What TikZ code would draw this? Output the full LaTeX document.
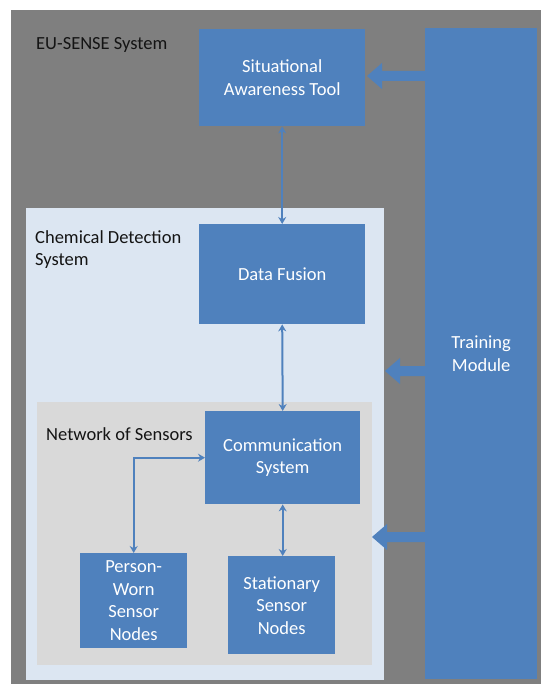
\documentclass[tikz,border=0pt]{standalone}
\usepackage{fontspec}
\setmainfont{Carlito}
\usetikzlibrary{arrows.meta,calc}
\definecolor{bgGrey}{HTML}{7F7F7F}
\definecolor{boxBlue}{HTML}{4F81BD}
\definecolor{lightBlue}{HTML}{DCE6F2}
\definecolor{netGrey}{HTML}{D9D9D9}
\begin{document}
\begin{tikzpicture}[x=1pt,y=-1pt,
  every node/.style={font=\fontsize{18.5}{22.5}\selectfont},
  area/.style={inner sep=0pt, anchor=north west},
  bluebox/.style={area, fill=boxBlue, text=white, align=center},
  lbl/.style={text=black!92, inner sep=0pt, align=left},
  conn/.style={draw=boxBlue, line width=2pt,
    {Stealth[length=7pt,width=8pt]}-{Stealth[length=7pt,width=8pt]}},
  ]
\useasboundingbox[fill=white] (0,0) rectangle (541,684);
% containers
\node[area, fill=bgGrey, minimum width=530pt, minimum height=674pt] (bg) at (11,10) {};
\node[area, fill=lightBlue, minimum width=358pt, minimum height=472pt] (cds) at (26,208) {};
\node[area, fill=netGrey, minimum width=335pt, minimum height=263pt] (net) at (37,402) {};
% labels
\node[lbl, anchor=west] (lblEU) at (36,45) {EU-SENSE System};
\node[lbl, anchor=north west] (lblCDS) at (35,230) {Chemical Detection\\System};
\node[lbl, anchor=west] (lblNet) at (46,434) {Network of Sensors};
% blue boxes
\node[bluebox, minimum width=166pt, minimum height=97pt] (sat) at (199,29) {Situational\\Awareness Tool};
\node[bluebox, minimum width=166pt, minimum height=100pt] (df) at (199,224) {Data Fusion};
\node[bluebox, minimum width=155pt, minimum height=93pt] (comm) at (205,411) {Communication\\System};
\node[bluebox, minimum width=107pt, minimum height=95pt] (pw) at (80,553) {Person-\\Worn\\Sensor\\Nodes};
\node[bluebox, minimum width=107pt, minimum height=98pt] (st) at (228,556) {Stationary\\Sensor\\Nodes};
\node[bluebox, minimum width=112pt, minimum height=651pt] (tm) at (425,28) {Training\\Module};
% block arrows from the training module
\coordinate (t1) at (367,76);
\coordinate (t2) at (385,371);
\coordinate (t3) at (372,537);
\foreach \t in {t1,t2,t3} {
  \fill[boxBlue] let \p1=(\t), \p2=(tm.west) in
    (\x1,\y1) -- (\x1+15pt,\y1+13pt) -- (\x1+15pt,\y1+5pt) -- (\x2+1pt,\y1+5pt)
    -- (\x2+1pt,\y1-5pt) -- (\x1+15pt,\y1-5pt) -- (\x1+15pt,\y1-13pt) -- cycle;
}
% thin connectors
\draw[conn] (sat.south) -- (df.north);
\draw[conn] (df.south) -- (comm.north);
\draw[conn] (comm.south) -- (comm.south |- st.north);
\draw[conn] (comm.west) -| (pw.north);
\end{tikzpicture}
\end{document}
